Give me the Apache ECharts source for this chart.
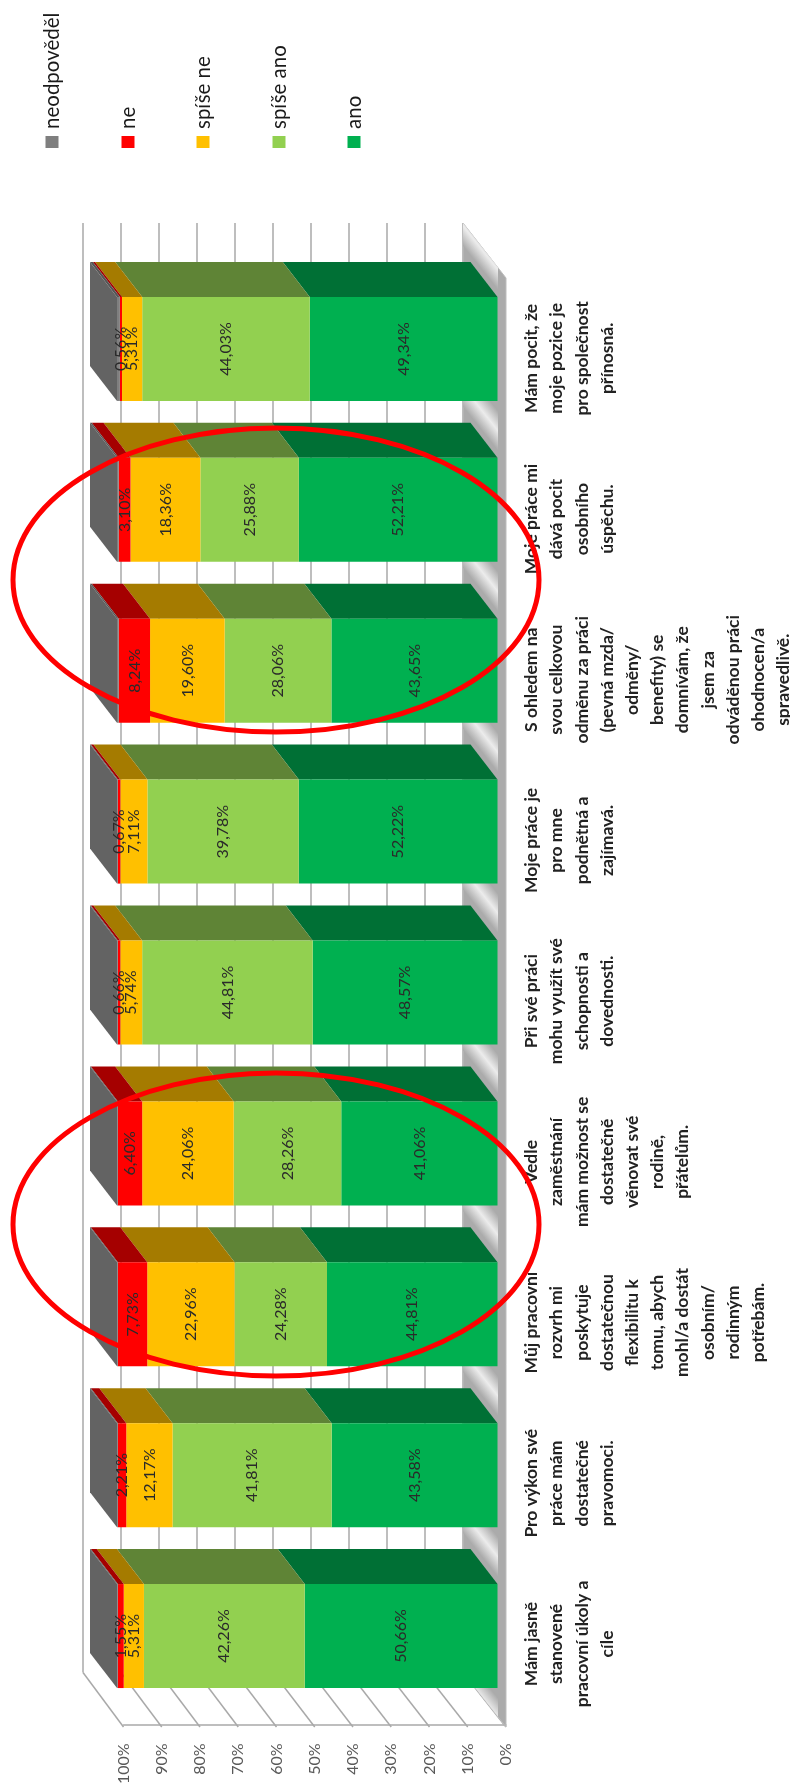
<!DOCTYPE html>
<html lang="cs">
<head>
<meta charset="utf-8">
<title>Spokojenost v práci</title>
<style>html,body{margin:0;padding:0;background:#fff}#chart{width:790px;height:1787px}</style>
<script src="https://cdn.jsdelivr.net/npm/echarts@6/dist/echarts.min.js"></script>
</head>
<body>
<div id="chart"></div>
<script>
// Statements, listed from the bottom of the chart to the top
const categories = [
  'Mám jasně\nstanovené\npracovní úkoly a\ncíle',
  'Pro výkon své\npráce mám\ndostatečné\npravomoci.',
  'Můj pracovní\nrozvrh mi\nposkytuje\ndostatečnou\nflexibilitu k\ntomu, abych\nmohl/a dostát\nosobním/\nrodinným\npotřebám.',
  'Vedle\nzaměstnání\nmám možnost se\ndostatečně\nvěnovat své\nrodině,\npřátelům.',
  'Při své práci\nmohu využít své\nschopnosti a\ndovednosti.',
  'Moje práce je\npro mne\npodnětná a\nzajímavá.',
  'S ohledem na\nsvou celkovou\nodměnu za práci\n(pevná mzda/\nodměny/\nbenefity) se\ndomnívám, že\njsem za\nodváděnou práci\nohodnocen/a\nspravedlivě.',
  'Moje práce mi\ndává pocit\nosobního\núspěchu.',
  'Mám pocit, že\nmoje pozice je\npro společnost\npřínosná.'
];

// Answer shares in percent
const ano        = [50.66, 43.58, 44.81, 41.06, 48.57, 52.22, 43.65, 52.21, 49.34];
const spiseAno   = [42.26, 41.81, 24.28, 28.26, 44.81, 39.78, 28.06, 25.88, 44.03];
const spiseNe    = [5.31, 12.17, 22.96, 24.06, 5.74, 7.11, 19.60, 18.36, 5.31];
const ne         = [1.55, 2.21, 7.73, 6.40, 0.66, 0.67, 8.24, 3.10, 0.56];
const neodpovedel = [0.22, 0.23, 0.22, 0.22, 0.22, 0.22, 0.45, 0.45, 0.76];

const answers = [
  { name: 'ano', values: ano, front: '#00b050', top: '#007035', labelled: true },
  { name: 'spíše ano', values: spiseAno, front: '#92d050', top: '#5f8436', labelled: true },
  { name: 'spíše ne', values: spiseNe, front: '#ffc000', top: '#a57b00', labelled: true },
  { name: 'ne', values: ne, front: '#ff0000', top: '#a50000', labelled: true },
  { name: 'neodpověděl', values: neodpovedel, front: '#7f7f7f', top: '#555555', labelled: false }
];

const FONT = 'Lato, "Open Sans", sans-serif';
const GRID_COLOR = '#a9a9a9';
const BAR_H = 104;
const DEPTH_X = 27, DEPTH_Y = 35;
const percent = v => v.toFixed(2).replace('.', ',') + '%';

const chart = echarts.init(document.getElementById('chart'), null, { renderer: 'canvas' });

// Grid 0: back wall, grid 1: bar fronts, grid 2: front plane carrying the axis labels
const grids = [
  { left: 83, top: 223, width: 380, height: 1449.5 },
  { left: 117, top: 268.5, width: 380.5, height: 1448 },
  { left: 123.5, top: 278, width: 382.5, height: 1449 }
];

const xAxes = grids.map((g, i) => ({
  type: 'value', gridIndex: i, inverse: true, min: 0, max: 100, interval: 10,
  position: 'bottom',
  axisTick: { show: false },
  axisLine: { show: i === 2, onZero: false, lineStyle: { color: GRID_COLOR, width: 1.5 } },
  axisLabel: i === 2
    ? { show: true, rotate: 90, margin: 19, fontFamily: FONT, fontSize: 16, color: '#595959', formatter: '{value}%' }
    : { show: false },
  splitLine: { show: i === 0, lineStyle: { color: GRID_COLOR, width: 1.5 } }
}));

const yAxes = grids.map((g, i) => ({
  type: 'category', gridIndex: i, data: categories,
  position: 'right',
  axisTick: { show: false },
  axisLine: { show: false },
  splitLine: { show: false },
  axisLabel: { show: false }
}));

// Statement texts sit beside the front plane, each centred on its category band
const statementLabels = {
  type: 'custom', xAxisIndex: 2, yAxisIndex: 2, coordinateSystem: 'cartesian2d', z: 5, silent: true,
  clip: false,
  data: categories.map((c, i) => [0, i]),
  encode: { x: 0, y: 1 },
  renderItem(params, api) {
    const i = api.value(1);
    const p = api.coord([0, i]);
    return {
      type: 'text',
      x: p[0] + 13,
      y: p[1],
      rotation: Math.PI / 2,
      style: {
        text: categories[i], align: 'center', verticalAlign: 'top',
        font: 'bold 17.5px ' + FONT, lineHeight: 25.2, fill: '#222222'
      }
    };
  }
};

// Receding diagonals of the side wall, one per value tick
const tickValues = [0, 10, 20, 30, 40, 50, 60, 70, 80, 90, 100];
const wallLines = {
  type: 'custom', xAxisIndex: 0, yAxisIndex: 0, coordinateSystem: 'cartesian2d', z: 1, silent: true,
  clip: false,
  data: tickValues.map(v => [v, 0]),
  encode: { x: 0, y: 1 },
  renderItem(params, api) {
    const v = api.value(0);
    const cs = params.coordSys;
    const x = api.coord([v, 0])[0];
    const y = cs.y + cs.height;
    return {
      type: 'line',
      shape: { x1: x, y1: y, x2: x + 40.5 + (100 - v) * 0.025, y2: y + 54.5 },
      style: { stroke: GRID_COLOR, lineWidth: 1.5 }
    };
  }
};

// Floor plane at the 0% end, with its sheen repeating in every gap between bars
const BACK_X = 463, FRONT_X = 506, FLOOR_SLOPE = 54.5 / 43;
const floorEdgeTop = x => 223 + (x - BACK_X) * FLOOR_SLOPE;
const floorEdgeBottom = x => 1672.5 + (x - BACK_X) * FLOOR_SLOPE;
const floor = {
  type: 'custom', xAxisIndex: 1, yAxisIndex: 1, coordinateSystem: 'cartesian2d', z: 1, silent: true,
  clip: false,
  data: [[0, 0]],
  encode: { x: 0, y: 1 },
  renderItem() {
    return {
      type: 'polygon',
      shape: { points: [[BACK_X, 223], [FRONT_X, 278], [FRONT_X, 1727], [BACK_X, 1672.5]] },
      style: { fill: '#ababab', stroke: '#bdbdbd', lineWidth: 1 }
    };
  }
};
const floorSheen = {
  type: 'custom', xAxisIndex: 1, yAxisIndex: 1, coordinateSystem: 'cartesian2d', z: 1, silent: true,
  clip: false,
  data: [0, 1, 2, 3, 4, 5, 6, 7, 8, 9].map(i => [0, i]),
  encode: { x: 0, y: 1 },
  renderItem(params, api) {
    const band = api.size([0, 1])[1];
    const centre = api.coord([0, 0])[1] - api.value(1) * band + BAR_H / 2 + 11;
    const at = x => centre + (x - 483) * FLOOR_SLOPE;
    const pts = [
      [BACK_X, Math.max(at(BACK_X) - 20, floorEdgeTop(BACK_X))],
      [FRONT_X - 8, Math.max(at(FRONT_X - 8) - 20, floorEdgeTop(FRONT_X - 8))],
      [FRONT_X - 8, Math.min(at(FRONT_X - 8) + 20, floorEdgeBottom(FRONT_X - 8))],
      [BACK_X, Math.min(at(BACK_X) + 20, floorEdgeBottom(BACK_X))]
    ];
    return {
      type: 'polygon',
      shape: { points: pts },
      style: {
        fill: new echarts.graphic.LinearGradient(483 - 9.7, centre + 7.7, 483 + 9.7, centre - 7.7, [
          { offset: 0, color: '#ababab' },
          { offset: 0.5, color: '#ececec' },
          { offset: 1, color: '#ababab' }
        ], true)
      }
    };
  }
};

// Top faces of the stacked segments, running from each bar's upper edge to the rear
let running = categories.map(() => 0);
const topFaces = answers.map(a => {
  const rows = a.values.map((v, i) => {
    const row = [running[i], running[i] + v, i];
    running[i] += v;
    return row;
  });
  return {
    type: 'custom', name: a.name + ' (horní plocha)', xAxisIndex: 1, yAxisIndex: 1,
    coordinateSystem: 'cartesian2d', z: 2, silent: true, clip: false,
    data: rows,
    encode: { x: [0, 1], y: 2 },
    renderItem(params, api) {
      const from = api.coord([api.value(0), api.value(2)]);
      const to = api.coord([api.value(1), api.value(2)]);
      const y = from[1] - BAR_H / 2;
      return {
        type: 'polygon',
        shape: { points: [[from[0], y], [to[0], y], [to[0] - DEPTH_X, y - DEPTH_Y], [from[0] - DEPTH_X, y - DEPTH_Y]] },
        style: { fill: a.top }
      };
    }
  };
});

// Closing side face at the 100% end of each bar
const sideFaces = {
  type: 'custom', xAxisIndex: 1, yAxisIndex: 1, coordinateSystem: 'cartesian2d', z: 2, silent: true, clip: false,
  data: running.map((total, i) => [total, i]),
  encode: { x: 0, y: 1 },
  renderItem(params, api) {
    const p = api.coord([api.value(0), api.value(1)]);
    const y0 = p[1] - BAR_H / 2, y1 = p[1] + BAR_H / 2;
    return {
      type: 'polygon',
      shape: { points: [[p[0], y0], [p[0] - DEPTH_X, y0 - DEPTH_Y], [p[0] - DEPTH_X, y1 - DEPTH_Y], [p[0], y1]] },
      style: { fill: '#636363' }
    };
  }
};

const fronts = answers.map(a => ({
  type: 'bar', name: a.name, xAxisIndex: 1, yAxisIndex: 1, stack: 'odpovedi', barWidth: BAR_H, z: 3,
  data: a.values,
  itemStyle: { color: a.front },
  label: {
    show: a.labelled, position: 'inside', rotate: 90,
    fontFamily: FONT, fontSize: 16, color: '#2a2a2a',
    formatter: p => percent(p.value)
  },
  silent: true
}));

// Legend entries drawn along the chart's rotated reading direction
const legendEntries = [
  { name: 'neodpověděl', color: '#7f7f7f', x: 52 },
  { name: 'ne', color: '#ff0000', x: 128 },
  { name: 'spíše ne', color: '#ffc000', x: 203 },
  { name: 'spíše ano', color: '#92d050', x: 279 },
  { name: 'ano', color: '#00b050', x: 354 }
];
const legendGraphics = [];
legendEntries.forEach(e => {
  legendGraphics.push({ type: 'rect', shape: { x: e.x - 6.5, y: 136, width: 13, height: 12 }, style: { fill: e.color } });
  legendGraphics.push({
    type: 'text', x: e.x, y: 129, rotation: Math.PI / 2,
    style: { text: e.name, align: 'left', verticalAlign: 'middle', font: '20.5px ' + FONT, fill: '#1a1a1a' }
  });
});

// Red rings highlighting the two pairs of weakest statements
const rings = [
  { cx: 276, cy: 580, rx: 263, ry: 152 },
  { cx: 276, cy: 1224.5, rx: 263, ry: 151.5 }
].map(shape => ({
  type: 'ellipse', shape, z: 100,
  style: { fill: 'transparent', stroke: '#ff0000', lineWidth: 5 }
}));

chart.setOption({
  animation: false,
  backgroundColor: '#fff',
  grid: grids.map(g => ({ ...g, containLabel: false })),
  xAxis: xAxes,
  yAxis: yAxes,
  series: [wallLines, floor, floorSheen, ...topFaces, sideFaces, ...fronts, statementLabels],
  graphic: [...legendGraphics, ...rings]
});
</script>
</body>
</html>
